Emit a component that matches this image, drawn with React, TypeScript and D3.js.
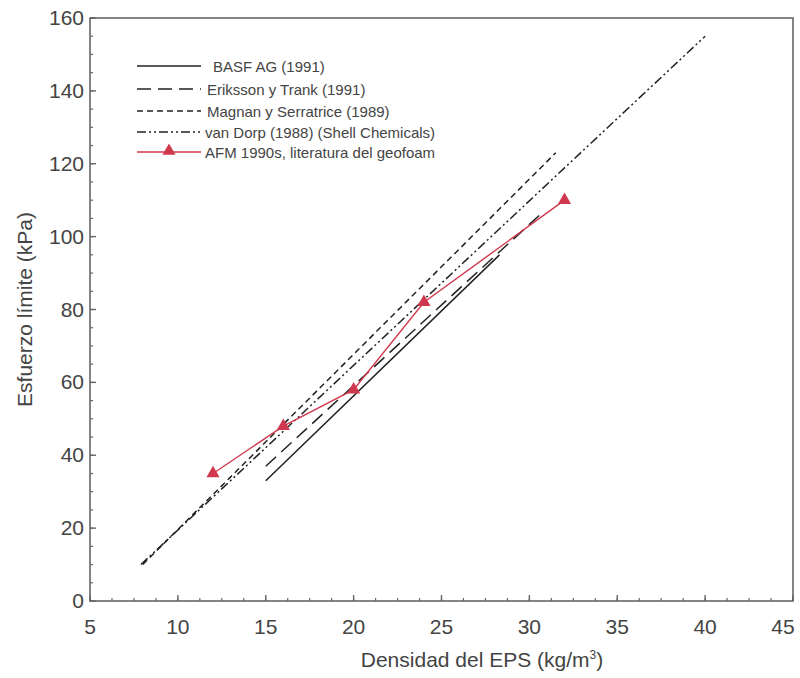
import React from "react";
import * as d3 from "d3";

const xTicks = [5, 10, 15, 20, 25, 30, 35, 40, 45];
const yTicks = [0, 20, 40, 60, 80, 100, 120, 140, 160];

const basfX = [15, 28.3];
const basfY = [33, 95];
const erikssonX = [15, 30.6];
const erikssonY = [37, 106];
const magnanX = [8, 31.5];
const magnanY = [10, 123];
const vanDorpX = [7.9, 40];
const vanDorpY = [10, 155];
const afmX = [12, 16, 20, 24, 32];
const afmY = [35, 48, 58, 82, 110];

const legendLabels = [
  "BASF AG (1991)",
  "Eriksson y Trank (1991)",
  "Magnan y Serratrice (1989)",
  "van Dorp (1988) (Shell Chemicals)",
  "AFM 1990s, literatura del geofoam",
];

const W = 800, H = 678;
const L = 90, R = 793, T = 18, B = 601;
const RED = "#d0384e";
const AX = "#666";
const TXT = "#444";
const FONT = "'Liberation Sans', Arial, sans-serif";

export default function App() {
  const x = d3.scaleLinear().domain([5, 45]).range([L, R]);
  const y = d3.scaleLinear().domain([0, 160]).range([B, T]);
  const line = d3
    .line<[number, number]>()
    .x((d) => x(d[0]))
    .y((d) => y(d[1]));
  const zip = (a: number[], b: number[]) => a.map((v, i) => [v, b[i]] as [number, number]);

  const series = [
    { xs: basfX, ys: basfY, dash: "none" },
    { xs: erikssonX, ys: erikssonY, dash: "14,7" },
    { xs: magnanX, ys: magnanY, dash: "6,4" },
    { xs: vanDorpX, ys: vanDorpY, dash: "9,3,2,3,2,3" },
  ];

  const minorX = d3.range(5, 45.01, 1.25);
  const minorY = d3.range(0, 160.01, 5);
  const tri = d3.symbol().type(d3.symbolTriangle).size(75)();

  const legendY = [67, 90, 112, 133, 153];
  const legendTextX = [213, 207, 207, 205, 205];

  return (
    <svg width={W} height={H} style={{ position: "absolute", left: 0, top: 0, background: "#fff" }}>
      <rect x={0} y={0} width={W} height={H} fill="#fff" />
      <rect x={L} y={T} width={R - L} height={B - T} fill="none" stroke={AX} strokeWidth={1.6} />
      {minorX.map((v) => (
        <line key={"mx" + v} x1={x(v)} x2={x(v)} y1={B} y2={B - 3} stroke={AX} strokeWidth={1.2} />
      ))}
      {minorY.map((v) => (
        <line key={"my" + v} x1={L} x2={L + 3} y1={y(v)} y2={y(v)} stroke={AX} strokeWidth={1.2} />
      ))}
      {xTicks.map((v) => (
        <g key={"xt" + v}>
          <line x1={x(v)} x2={x(v)} y1={B} y2={B - 6} stroke={AX} strokeWidth={1.4} />
          <text
            x={v === 45 ? x(v) - 10 : x(v)}
            y={B + 33}
            textAnchor="middle"
            fontSize={21}
            fill={TXT}
            fontFamily={FONT}
          >
            {v}
          </text>
        </g>
      ))}
      {yTicks.map((v) => (
        <g key={"yt" + v}>
          <line x1={L} x2={L + 6} y1={y(v)} y2={y(v)} stroke={AX} strokeWidth={1.4} />
          <text x={L - 6} y={y(v) + 7} textAnchor="end" fontSize={21} fill={TXT} fontFamily={FONT}>
            {v}
          </text>
        </g>
      ))}
      <text x={482} y={667} textAnchor="middle" fontSize={21} fill={TXT} fontFamily={FONT}>
        Densidad del EPS (kg/m
        <tspan dy={-8} fontSize={12}>3</tspan>
        <tspan dy={8}>)</tspan>
      </text>
      <text
        transform={`translate(32,${(T + B) / 2}) rotate(-90)`}
        textAnchor="middle"
        fontSize={21}
        fill={TXT}
        fontFamily={FONT}
      >
        Esfuerzo límite (kPa)
      </text>
      {series.map((s, i) => (
        <path
          key={"s" + i}
          d={line(zip(s.xs, s.ys)) || ""}
          fill="none"
          stroke="#222"
          strokeWidth={1.5}
          strokeDasharray={s.dash}
        />
      ))}
      <path d={line(zip(afmX, afmY)) || ""} fill="none" stroke={RED} strokeWidth={1.4} />
      {afmX.map((v, i) => (
        <path key={"m" + i} d={tri || ""} transform={`translate(${x(v)},${y(afmY[i])})`} fill={RED} />
      ))}
      {legendLabels.map((lab, i) => (
        <g key={"lg" + i}>
          {i < 4 ? (
            <line
              x1={137}
              x2={201}
              y1={legendY[i] - 1}
              y2={legendY[i] - 1}
              stroke="#222"
              strokeWidth={1.5}
              strokeDasharray={series[i].dash}
            />
          ) : (
            <g>
              <line x1={137} x2={201} y1={legendY[i] - 1} y2={legendY[i] - 1} stroke={RED} strokeWidth={1.4} />
              <path d={tri || ""} transform={`translate(169,${legendY[i] - 2})`} fill={RED} />
            </g>
          )}
          <text x={legendTextX[i]} y={legendY[i] + 5} fontSize={15} fill={TXT} fontFamily={FONT}>
            {lab}
          </text>
        </g>
      ))}
    </svg>
  );
}
